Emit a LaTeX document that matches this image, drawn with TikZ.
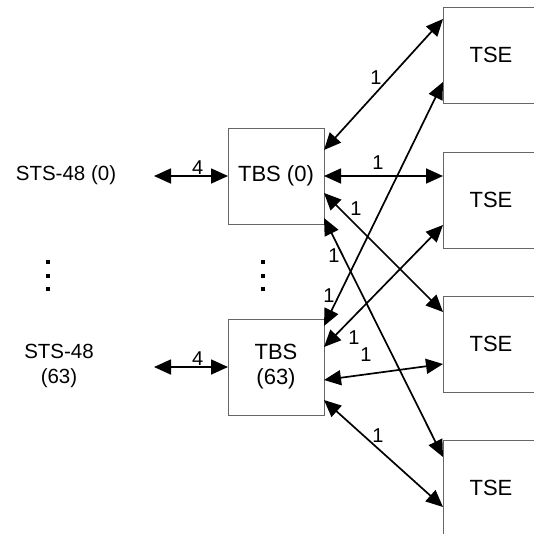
\documentclass[tikz,border=0pt]{standalone}
\usepackage{fontspec}
\setmainfont{Liberation Sans}
\usetikzlibrary{arrows.meta,calc}
\begin{document}
\begin{tikzpicture}[x=1pt,y=-1pt,
  box/.style={draw=black!60, line width=0.8pt, minimum width=96pt, minimum height=96pt, inner sep=0pt, outer sep=0pt, font=\fontsize{22}{25}\selectfont, align=center},
  lbl/.style={font=\fontsize{20.5}{25}\selectfont, align=center, inner sep=0pt},
  num/.style={font=\fontsize{20}{22}\selectfont, inner sep=0pt},
  tip/.tip={Triangle[length=17pt,width=15pt]},
  link/.style={line width=1.7pt, tip-tip},
  sq/.style={fill=black, minimum size=4pt, inner sep=0pt}]
\useasboundingbox (0,0) rectangle (534,533);

% boxes
\node[box] (tbs0) at (276,176) {TBS (0)};
\node[box] (tbs63) at (276,367) {TBS\\(63)};
\node[box] (tse1) at (491,55) {TSE};
\node[box] (tse2) at (491,200) {TSE};
\node[box] (tse3) at (491,344) {TSE};
\node[box] (tse4) at (491,488) {TSE};

% STS labels
\node[lbl] (sts0) at (66,175) {STS-48 (0)};
\node[lbl] (sts63) at (59,366) {STS-48\\(63)};

% free ends of the STS links
\coordinate (s0) at (154,176);
\coordinate (s63) at (154,367);
\draw[link] (s0) -- (tbs0.west) node[num, pos=0.59, above=1pt] (n4a) {4};
\draw[link] (s63) -- (tbs63.west) node[num, pos=0.59, above=1pt] (n4b) {4};

% dots
\foreach \y [count=\i] in {262,276,289} {
  \node[sq] (dl\i) at (48,\y) {};
  \node[sq] (dr\i) at (263,\y) {};
}

% end points on boxes
\coordinate (a1) at ($(tbs0.north east)+(0,22)$);
\coordinate (a2) at ($(tbs0.north east)+(0,48)$);
\coordinate (a3) at ($(tbs0.north east)+(0,65)$);
\coordinate (a4) at ($(tbs0.north east)+(0,90)$);
\coordinate (b1) at ($(tbs63.north east)+(0,7)$);
\coordinate (b2) at ($(tbs63.north east)+(0,28)$);
\coordinate (b3) at ($(tbs63.north east)+(0,61)$);
\coordinate (b4) at ($(tbs63.north east)+(0,81)$);
\coordinate (t1a) at ($(tse1.north west)+(0,12)$);
\coordinate (t1b) at ($(tse1.north west)+(0,75)$);
\coordinate (t2a) at ($(tse2.north west)+(0,24)$);
\coordinate (t2b) at ($(tse2.north west)+(0,73)$);
\coordinate (t3a) at ($(tse3.north west)+(0,16)$);
\coordinate (t3b) at ($(tse3.north west)+(0,68)$);
\coordinate (t4a) at ($(tse4.north west)+(0,17)$);
\coordinate (t4b) at ($(tse4.north west)+(0,67)$);

\draw[link] (a1) -- (t1a);
\draw[link] (a2) -- (t2a);
\draw[link] (a3) -- (t3a);
\draw[link] (a4) -- (t4a);
\draw[link] (b1) -- (t1b);
\draw[link] (b2) -- (t2b);
\draw[link] (b3) -- (t3b);
\draw[link] (b4) -- (t4b);

% labels
\node[num] (l1) at (376,78) {1};
\node[num] (l2) at (378,163) {1};
\node[num] (l3) at (356,209) {1};
\node[num] (l4) at (334,256) {1};
\node[num] (l5) at (329,296) {1};
\node[num] (l6) at (354,338) {1};
\node[num] (l7) at (366,355) {1};
\node[num] (l8) at (378,436) {1};
\end{tikzpicture}
\end{document}
